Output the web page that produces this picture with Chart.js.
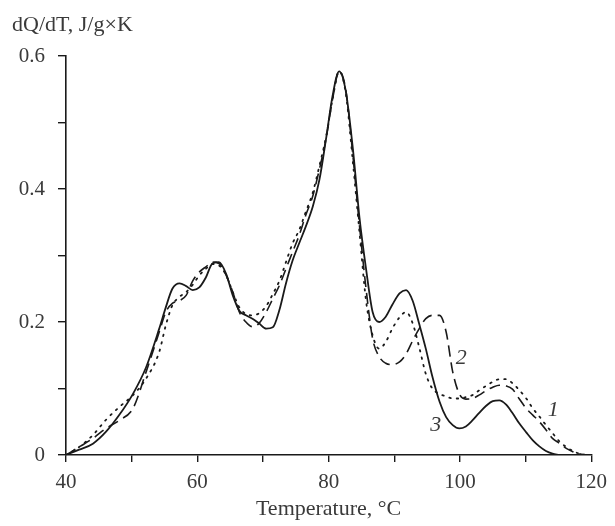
<!DOCTYPE html>
<html>
<head>
<meta charset="utf-8">
<script src="https://cdn.jsdelivr.net/npm/chart.js@4.4.1/dist/chart.umd.min.js"></script>
<style>
  html, body { margin: 0; padding: 0; background: #fff; }
  #wrap { width: 615px; height: 526px; }
</style>
</head>
<body>
<div id="wrap"><canvas id="myChart"></canvas></div>
<script>
// temperature grid, degrees C
const temps = [40, 42, 44.1, 46.1, 48.1, 50.2, 52.2, 54.2,
  55.2, 56.2, 57.3, 58.3, 59.3, 60.3, 61.3, 62.3, 63.3, 64.4, 65.4, 66.4,
  67.4, 68.4, 69.4, 70.5, 71.5, 72.5, 73.5, 74.5, 75.5, 76.5, 77.6, 78.6,
  79.6, 80.6, 81.6, 82.6, 83.7, 84.7, 85.7, 86.7, 87.7, 88.7, 89.7, 90.8,
  91.8, 92.8, 93.8, 94.8, 95.8, 96.9, 97.9, 98.9, 99.9, 100.9, 101.9, 102.9,
  104.0, 105.0, 106.0, 107.0, 108.0, 109.0, 110.1, 111.1, 112.1, 113.1, 114.1,
  115.1, 116.2, 117.2, 118.2, 119.2];

// curve 1 (dotted)
const curve1 = [0, 0.012, 0.03, 0.053, 0.072, 0.09, 0.115, 0.155,
  0.195, 0.225, 0.238, 0.245, 0.256, 0.27, 0.28, 0.287, 0.285, 0.27, 0.245, 0.222,
  0.212, 0.21, 0.213, 0.224, 0.242, 0.262, 0.29, 0.318, 0.338, 0.365, 0.395, 0.435,
  0.478, 0.535, 0.577, 0.545, 0.44, 0.335, 0.232, 0.18, 0.16, 0.17, 0.19, 0.207,
  0.215, 0.198, 0.162, 0.122, 0.1, 0.092, 0.088, 0.085, 0.085, 0.087, 0.09, 0.097,
  0.104, 0.11, 0.114, 0.114, 0.108, 0.098, 0.085, 0.07, 0.058, 0.045, 0.033,
  0.021, 0.012, 0.006, 0.002, 0];

// curve 2 (dashed)
const curve2 = [0, 0.012, 0.025, 0.04, 0.052, 0.07, 0.125, 0.185,
  0.215, 0.228, 0.232, 0.24, 0.262, 0.275, 0.283, 0.29, 0.288, 0.27, 0.245, 0.215,
  0.2, 0.193, 0.198, 0.215, 0.235, 0.255, 0.28, 0.305, 0.33, 0.36, 0.39, 0.43,
  0.475, 0.535, 0.577, 0.55, 0.45, 0.345, 0.25, 0.175, 0.148, 0.138, 0.136, 0.14,
  0.152, 0.172, 0.19, 0.205, 0.21, 0.21, 0.185, 0.125, 0.092, 0.084, 0.085, 0.09,
  0.097, 0.102, 0.105, 0.104, 0.099, 0.085, 0.07, 0.06, 0.05, 0.038, 0.025,
  0.018, 0.01, 0.005, 0.002, 0];

// curve 3 (solid)
const curve3 = [0, 0.008, 0.017, 0.035, 0.06, 0.092, 0.132, 0.19,
  0.222, 0.25, 0.258, 0.254, 0.248, 0.252, 0.267, 0.288, 0.29, 0.272, 0.24, 0.217,
  0.21, 0.205, 0.198, 0.19, 0.192, 0.218, 0.258, 0.292, 0.318, 0.343, 0.374, 0.414,
  0.475, 0.54, 0.577, 0.548, 0.46, 0.357, 0.28, 0.215, 0.2, 0.208, 0.226, 0.243,
  0.248, 0.232, 0.197, 0.16, 0.118, 0.08, 0.057, 0.045, 0.04, 0.043, 0.052, 0.063,
  0.074, 0.081, 0.082, 0.076, 0.063, 0.048, 0.034, 0.022, 0.013, 0.006, 0.002,
  0, null, null, null, null];

const curveNames = ["1", "2", "3"];
// where the curve numbers sit, in data units [temperature, dQ/dT]
const curveLabelAt = [[114.2, 0.068], [100.2, 0.146], [96.3, 0.045]];

const FONT = "'Liberation Serif', 'DejaVu Serif', serif";
const INK = "#1a1a1a";
const TEXT = "#3a3a3a";

function pts(ys) {
  const out = [];
  temps.forEach((t, i) => { if (ys[i] !== null) out.push({ x: t, y: ys[i] }); });
  return out;
}

const extras = {
  id: "extras",
  afterDraw(chart) {
    const { ctx, chartArea, scales } = chart;
    ctx.save();
    ctx.fillStyle = TEXT;
    ctx.font = "22px " + FONT;
    ctx.textBaseline = "alphabetic";
    ctx.textAlign = "left";
    ctx.fillText("dQ/dT, J/g×K", chartArea.left - 54, chartArea.top - 25);
    ctx.font = "italic 22px " + FONT;
    ctx.textAlign = "center";
    ctx.textBaseline = "middle";
    curveNames.forEach((n, i) => {
      const [t, v] = curveLabelAt[i];
      ctx.fillText(n, scales.x.getPixelForValue(t), scales.y.getPixelForValue(v));
    });
    ctx.restore();
  },
};

const ctx = document.getElementById("myChart");

new Chart(ctx, {
  type: "line",
  data: {
    datasets: [
      {
        label: "1",
        data: pts(curve1),
        borderColor: INK,
        borderWidth: 1.8,
        borderDash: [1.5, 6],
        borderCapStyle: "round",
      },
      {
        label: "2",
        data: pts(curve2),
        borderColor: INK,
        borderWidth: 1.6,
        borderDash: [11, 6],
      },
      {
        label: "3",
        data: pts(curve3),
        borderColor: INK,
        borderWidth: 1.8,
      },
    ],
  },
  options: {
    responsive: true,
    maintainAspectRatio: false,
    animation: false,
    elements: {
      point: { radius: 0 },
      line: { cubicInterpolationMode: "monotone", fill: false },
    },
    layout: {
      padding: { top: 56, right: 22, left: 0, bottom: 0 },
    },
    plugins: {
      legend: { display: false },
      tooltip: { enabled: false },
    },
    scales: {
      x: {
        type: "linear",
        min: 40,
        max: 120,
        border: { display: true, color: INK, width: 1.6 },
        grid: { drawOnChartArea: false, drawTicks: true, tickLength: 7, color: INK, lineWidth: 1.4 },
        ticks: {
          stepSize: 10,
          padding: 8,
          color: TEXT,
          font: { family: FONT, size: 21 },
          maxRotation: 0,
          autoSkip: false,
          callback: (v) => (v % 20 === 0 ? String(v) : ""),
        },
        title: {
          display: true,
          text: "Temperature, °C",
          color: TEXT,
          font: { family: FONT, size: 22 },
          padding: { top: 0, bottom: 4 },
        },
        afterFit: (s) => { s.height = 71; },
      },
      y: {
        min: 0,
        max: 0.6,
        border: { display: true, color: INK, width: 1.6 },
        grid: { drawOnChartArea: false, drawTicks: true, tickLength: 8, color: INK, lineWidth: 1.4 },
        ticks: {
          stepSize: 0.1,
          padding: 13,
          color: TEXT,
          font: { family: FONT, size: 21 },
          autoSkip: false,
          callback: (v) => {
            const k = Math.round(v * 10);
            if (k % 2 !== 0) return "";
            return k === 0 ? "0" : (k / 10).toFixed(1);
          },
        },
        afterFit: (s) => { s.width = 66; },
      },
    },
  },
  plugins: [extras],
});
</script>
</body>
</html>
